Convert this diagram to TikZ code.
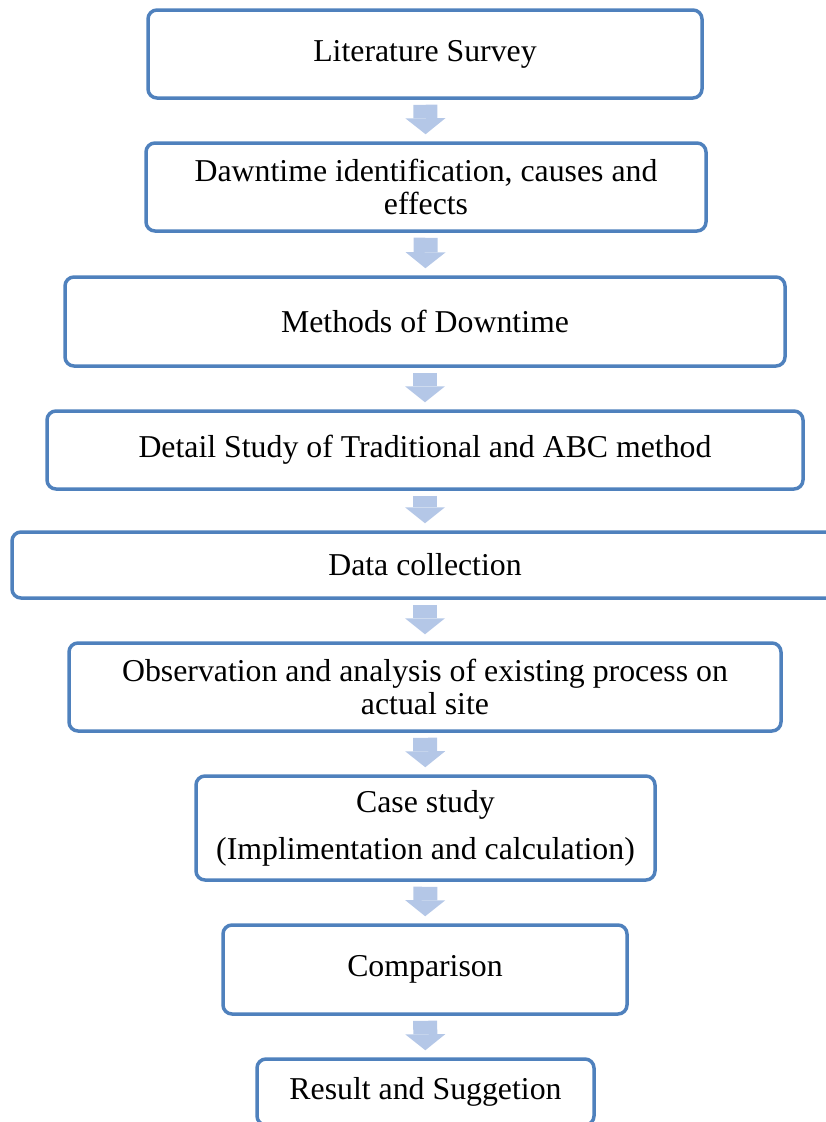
\documentclass[tikz,border=0pt]{standalone}
\usepackage{fontspec}
\setmainfont{Liberation Serif}
\usetikzlibrary{arrows.meta}

\definecolor{boxblue}{RGB}{79,129,189}
\definecolor{arrowblue}{RGB}{180,199,231}

\tikzset{
    stepbox/.style={draw=boxblue, line width=3.5pt, rounded corners=9pt, align=center,
        font=\fontsize{31.8}{33}\selectfont, inner sep=0pt},
    downarrow/.style={draw=arrowblue, line width=24pt, shorten <=5pt, shorten >=7pt,
        -{Triangle[width=40pt,length=16pt,line width=0pt]}}
}

\begin{document}
\begin{tikzpicture}[x=1pt, y=-1pt]

                \useasboundingbox (0,0) rectangle (826,1122);

                \node[stepbox, minimum width=554pt, minimum height=88pt] (survey) at (425,54) {Literature Survey};
                \node[stepbox, minimum width=560pt, minimum height=88pt] (ident) at (426,187) {Dawntime identification, causes and\\effects};
                \node[stepbox, minimum width=720pt, minimum height=89pt] (methods) at (425,321.5) {Methods of Downtime};
                \node[stepbox, minimum width=756pt, minimum height=78pt] (detail) at (425,450) {Detail Study of Traditional and ABC method};
                \node[stepbox, minimum width=826pt, minimum height=66pt] (data) at (425,565) {Data collection};
                \node[stepbox, minimum width=712pt, minimum height=88pt] (observe) at (425,687) {Observation and analysis of existing process on\\actual site};
                \node[stepbox, minimum width=459pt, minimum height=104pt] (casestudy) at (425.5,828) {Case study\\[14pt](Implimentation and calculation)};
                \node[stepbox, minimum width=404pt, minimum height=89pt] (compare) at (425,969.5) {Comparison};
                \node[stepbox, minimum width=337pt, minimum height=66pt] (result) at (425.5,1092) {Result and Suggetion};

                \draw[downarrow] (survey) -- (ident);
                \draw[downarrow] (ident) -- (methods);
                \draw[downarrow] (methods) -- (detail);
                \draw[downarrow] (detail) -- (data);
                \draw[downarrow] (data) -- (observe);
                \draw[downarrow] (observe) -- (casestudy);
                \draw[downarrow] (casestudy) -- (compare);
                \draw[downarrow] (compare) -- (result);

\end{tikzpicture}
\end{document}
